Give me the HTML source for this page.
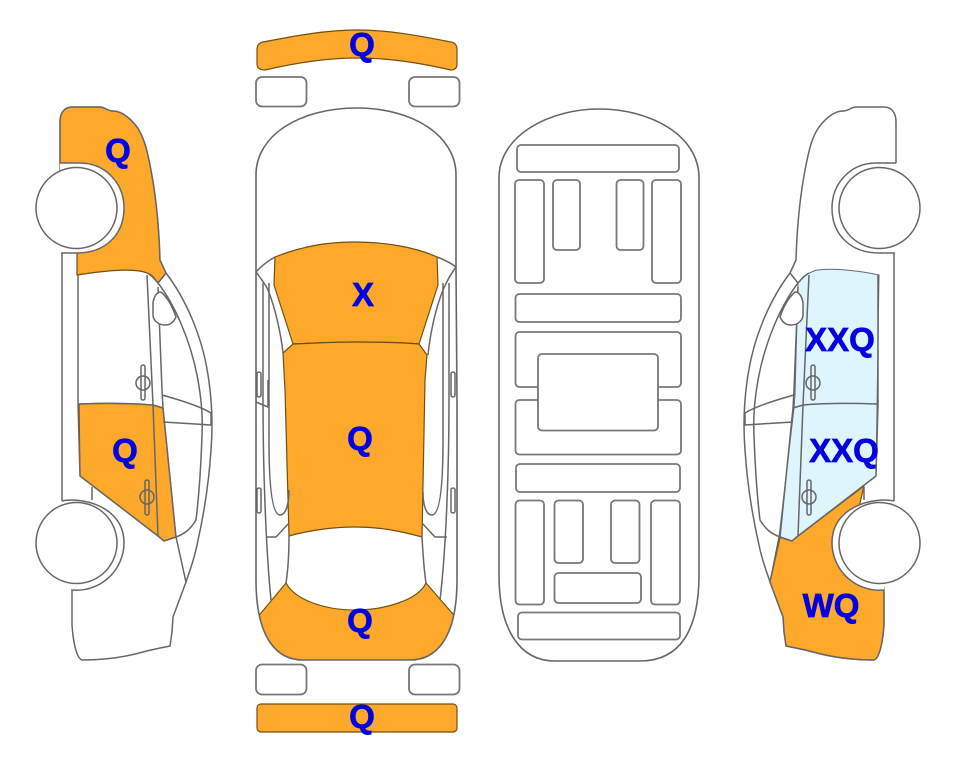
<!DOCTYPE html>
<html><head><meta charset="utf-8"><style>
html,body{margin:0;padding:0;background:#fff}
svg{display:block}
text{font-family:"Liberation Sans",sans-serif;font-weight:bold;font-size:33px;fill:#0000e0;stroke:#0000e0;stroke-width:.7;text-anchor:middle}
.o{fill:#fea82c;stroke:#70500f;stroke-width:1.2;stroke-linejoin:round}
.b{fill:#dff5fe;stroke:#667;stroke-width:1}
.l{fill:none;stroke:#666;stroke-width:1.5;stroke-linejoin:round}
.w{fill:#fff;stroke:#666;stroke-width:1.5}
.r{fill:#fff;stroke:#777;stroke-width:1.8}
</style></head><body>
<svg width="963" height="768" viewBox="0 0 963 768" xmlns="http://www.w3.org/2000/svg">
<rect width="963" height="768" fill="#fff"/>
<defs>
<clipPath id="bodyclip"><path d="M256,272V175C256,135 300,108 357,108C412,108 456,135 456,175V267L457,400V580C457,640 435,660 410,660H303C278,660 256,640 256,580Z"/></clipPath>
<g id="side">
<path class="l" d="M60,163V122C60,112 65,107 72,107H100C105,107 107,111 113,111C122,111 130,118 137,127C144,137 147,150 150,165C155,190 159,225 160,260L166,273C185,298 202,335 208,375C212,400 213,425 211,450C209,480 205,510 197,545C194,560 190,570 186,582L173,617L172,632L170,646C160,648 150,650 143,652C125,657 105,660 82,660C76,658 73,640 72,625V589"/>
<path class="l" d="M147,273C153,276 155,280 158,283C175,305 190,340 197,375C201,395 203,415 202,435C201,465 199,495 196,520C190,530 184,534 176,537"/>
<path class="l" d="M166,273L158,283M147,275L153,405L158,536M158,287L162,390L163,408L176,537L186,582"/>
<path class="l" d="M62,253V501M78,275V404L80,476M92,487V500"/>
<path class="l" d="M162,395C180,400 200,406 211,413V425C195,424 180,423 163,422"/>
<path class="w" d="M153,303C154,296 157,292 161,292C168,298 173,308 176,317C173,323 170,325 165,325C158,325 153,320 153,315Z"/>
<path class="l" d="M79,404C105,403 130,403 153,405L163,408M80,476L158,536L164,541L176,537"/>
<circle cx="143" cy="383" r="7" class="l"/><rect x="141" y="365" width="4" height="35" rx="2" class="l"/>
<circle cx="147" cy="497" r="7" class="l"/><rect x="145" y="480" width="4" height="35" rx="2" class="l"/>
<path fill="#fff" stroke="#666" stroke-width="1.5" d="M60,163H80C105,163 124,183 124,208C124,235 105,253 77,253H61"/>
<path fill="#fff" stroke="#666" stroke-width="1.5" d="M62,501C80,497 124,505 124,543A47.5,47.5 0 0 1 72,590"/>
<circle cx="76.5" cy="208" r="40.5" class="w"/>
<circle cx="76.5" cy="543" r="40.5" class="w"/>
</g>
</defs>

<!-- left side fills -->
<path class="o" d="M60,163V122C60,112 65,107 72,107H100C105,107 107,111 113,111C122,111 130,118 137,127C144,137 147,150 150,165C155,190 159,225 160,260L166,273L158,283C154,278 152,274 147,273C135,268 110,270 77,275V250L60,200Z"/>
<path class="o" d="M79,404C105,403 130,403 153,405L163,408L176,537L164,541L158,536L80,476Z"/>
<!-- right side fills (mirrored coordinates) -->
<g transform="translate(956,0) scale(-1,1)">
<path class="b" d="M77,275C100,270 125,268 138,270C145,271 152,276 158,283L161,395L162,408L177,537L164,541L158,536L80,476Z"/>
<path class="o" d="M92,486L158,536L164,541L177,537L186,582L173,617L172,632L170,646C160,648 150,650 143,652C125,657 105,660 82,660C76,658 73,640 72,625V580L100,520Z"/>
</g>
<use href="#side"/>
<use href="#side" transform="translate(956,0) scale(-1,1)"/>

<!-- top view -->
<path class="o" d="M257,50C257,45 259,43 263,42C295,36 325,30 357,30C390,30 420,36 451,42C455,43 457,45 457,50V64C457,68 455,70 451,70C420,63 390,58 357,58C325,58 295,63 265,70C260,70 257,68 257,64Z"/>
<rect class="r" x="256" y="77" width="50.500" height="29.500" rx="6"/>
<rect class="r" x="409" y="77" width="50.500" height="29.500" rx="6"/>
<g clip-path="url(#bodyclip)">
<path class="o" d="M255,620L261,613L286,583C295,600 325,610 355,610C385,610 418,600 426,583L452,613L460,620V670H250Z"/>
</g>
<path class="l" d="M256,272V175C256,135 300,108 357,108C412,108 456,135 456,175V267L457,400V580C457,640 435,660 410,660H303C278,660 256,640 256,580Z" style="stroke-width:1.6"/>
<path class="o" d="M275,257C300,247 325,242 353,242C385,242 415,247 437,257L438,285L419,344C395,342 375,342 355,342C335,342 315,343 293,344L274,285Z"/>
<path class="o" d="M293,344L283,353L285,390L289,536C310,530 335,527 355,527C380,527 400,531 422,537L425,380L427,355L419,344C395,342 375,342 355,342C335,342 315,343 293,344Z"/>
<g class="l">
<path class="l" d="M256,272C262,265 268,261 275,257M437,257C445,260 451,263 456,267"/>
<path class="l" d="M256,272C262,280 266,285 268,290C276,310 281,335 283,353M456,267C450,275 446,283 443,290C435,310 430,335 428,355"/>
<path class="l" d="M263,283V400C263,470 266,550 271,600M269,283V440C269,485 272,515 280,515C287,515 289,500 289,490"/>
<path class="l" d="M449,283V400C449,470 446,550 440,600M443,283V440C443,485 440,515 432,515C426,515 423,505 423,492"/>
<path class="l" d="M256,402L268,407V380M266,537H276L289,523M447,537H435L422,523M289,536C289,555 288,570 286,583M422,537C423,555 424,570 426,583"/>
<rect class="l" x="257" y="372" width="4" height="25" rx="2"/>
<rect class="l" x="451" y="372" width="4" height="25" rx="2"/>
<rect class="l" x="257" y="488" width="4" height="25" rx="2"/>
<rect class="l" x="451" y="488" width="4" height="25" rx="2"/>
</g>
<rect class="r" x="256" y="664.500" width="50.500" height="30" rx="6"/>
<rect class="r" x="409" y="664.500" width="50.500" height="30" rx="6"/>
<rect class="o" x="257" y="704" width="200" height="28" rx="4"/>

<!-- underbody -->
<path class="l" d="M499,178C499,135 550,109 599,109C650,109 699,135 699,178V575C699,630 680,661 640,661H555C520,661 499,630 499,575Z" style="stroke-width:1.6"/>
<g>
<rect class="r" x="517" y="145" width="162" height="27" rx="4"/>
<rect class="r" x="515" y="180" width="29" height="103" rx="4"/>
<rect class="r" x="553" y="180" width="27" height="70" rx="4"/>
<rect class="r" x="616.500" y="180" width="27" height="70" rx="4"/>
<rect class="r" x="652" y="180" width="29" height="103" rx="4"/>
<rect class="r" x="515.500" y="294" width="165.500" height="28" rx="4"/>
<rect class="r" x="515.500" y="332" width="165.500" height="55" rx="4"/>
<rect class="r" x="515.500" y="400" width="165.500" height="54.500" rx="4"/>
<rect class="r" x="538" y="354" width="120" height="76.500" rx="4"/>
<rect class="r" x="516" y="464" width="164" height="28" rx="4"/>
<rect class="r" x="515.500" y="500.500" width="28.500" height="104" rx="4"/>
<rect class="r" x="554.500" y="500.500" width="28.500" height="62.500" rx="4"/>
<rect class="r" x="611" y="500.500" width="28.500" height="62.500" rx="4"/>
<rect class="r" x="651" y="500.500" width="29" height="104" rx="4"/>
<rect class="r" x="554.500" y="573" width="86.500" height="30" rx="4"/>
<rect class="r" x="518" y="612.500" width="162" height="27" rx="4"/>
</g>

<text x="118" y="162">Q</text>
<text x="125" y="462">Q</text>
<text x="362" y="56">Q</text>
<text x="363" y="306">X</text>
<text x="360" y="450">Q</text>
<text x="360" y="632">Q</text>
<text x="362" y="728">Q</text>
<text x="840" y="351">XXQ</text>
<text x="844" y="462">XXQ</text>
<text x="831" y="617">WQ</text>
</svg>
</body></html>
